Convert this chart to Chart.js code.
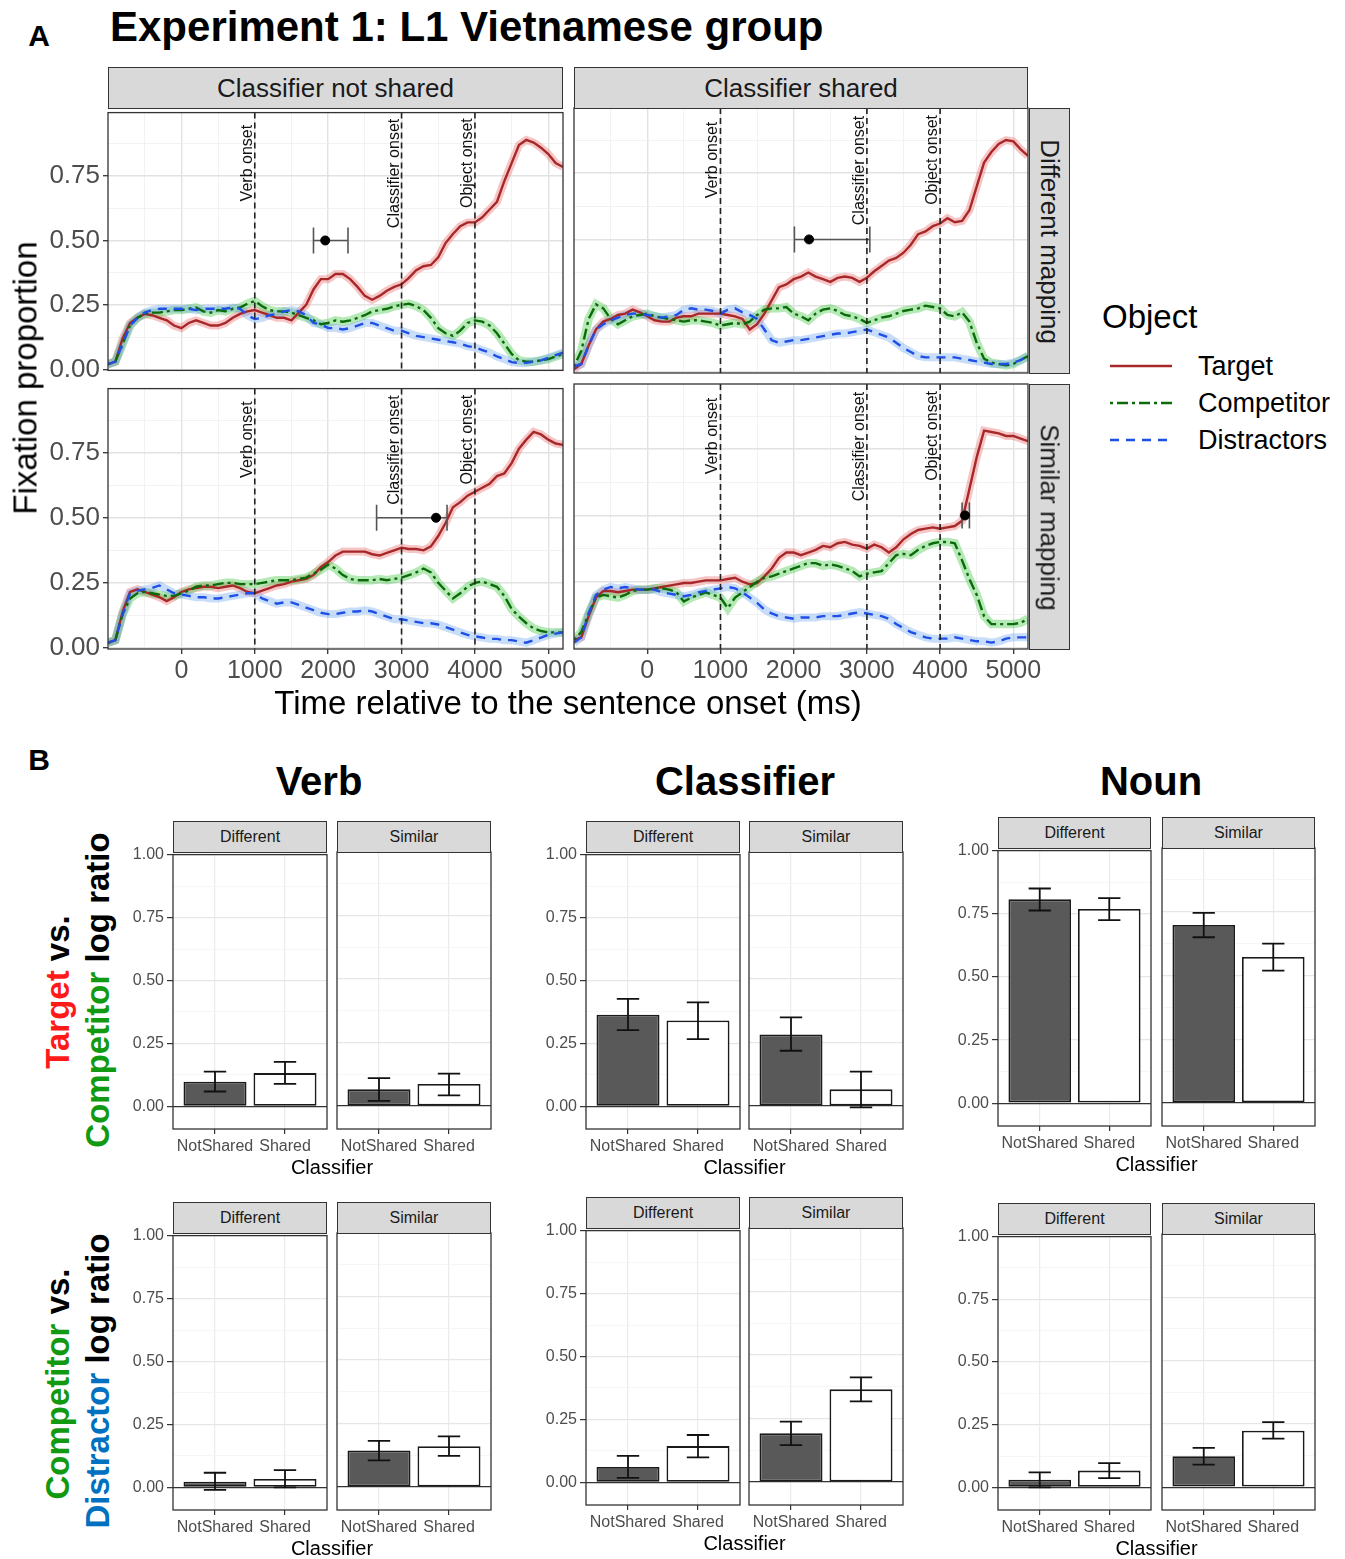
<!DOCTYPE html>
<html>
<head>
<meta charset="utf-8">
<script src="https://cdn.jsdelivr.net/npm/chart.js@4.4.0/dist/chart.umd.min.js"></script>
<style>
body { margin:0; background:#fff; font-family:"Liberation Sans", Arial, sans-serif; }
#page { position:relative; width:1345px; height:1559px; overflow:hidden; background:#fff; }
canvas { position:absolute; }
.lbl { position:absolute; white-space:nowrap; line-height:1; }
.strip { position:absolute; background:#d9d9d9; border:1.3px solid #333; box-sizing:border-box;
         display:flex; align-items:center; justify-content:center; color:#1a1a1a; white-space:nowrap; }
</style>
</head>
<body>
<div id="page"></div>
<script>
//////////////////// A: fixation proportions (100 ms steps) ////////////////////
var timesMs = [-1000,-900,-800,-700,-600,-500,-400,-300,-200,-100,
  0,100,200,300,400,500,600,700,800,900,
  1000,1100,1200,1300,1400,1500,1600,1700,1800,1900,
  2000,2100,2200,2300,2400,2500,2600,2700,2800,2900,
  3000,3100,3200,3300,3400,3500,3600,3700,3800,3900,
  4000,4100,4200,4300,4400,4500,4600,4700,4800,4900,
  5000,5100,5200];

// Classifier not shared / Different mapping
var nsDiffTarget = [0.02,0.03,0.12,0.18,0.20,0.215,0.21,0.20,0.19,0.17,
  0.16,0.18,0.19,0.18,0.17,0.17,0.18,0.20,0.215,0.225,
  0.23,0.22,0.21,0.20,0.20,0.19,0.22,0.25,0.31,0.35,
  0.35,0.37,0.37,0.35,0.32,0.285,0.27,0.285,0.305,0.32,
  0.33,0.355,0.385,0.40,0.405,0.435,0.49,0.525,0.555,0.57,
  0.57,0.59,0.62,0.65,0.73,0.80,0.87,0.89,0.88,0.86,
  0.835,0.80,0.785];
var nsDiffCompetitor = [0.02,0.03,0.10,0.17,0.20,0.215,0.22,0.22,0.225,0.23,
  0.23,0.235,0.24,0.225,0.22,0.23,0.225,0.235,0.24,0.255,
  0.265,0.245,0.23,0.225,0.225,0.22,0.21,0.20,0.19,0.175,
  0.18,0.19,0.185,0.19,0.20,0.21,0.225,0.23,0.235,0.245,
  0.25,0.255,0.245,0.23,0.20,0.16,0.14,0.13,0.15,0.18,
  0.19,0.185,0.17,0.14,0.10,0.06,0.035,0.03,0.03,0.035,
  0.04,0.05,0.06];
var nsDiffDistractors = [0.02,0.03,0.10,0.17,0.20,0.22,0.23,0.235,0.235,0.235,
  0.235,0.235,0.23,0.235,0.235,0.235,0.235,0.24,0.235,0.21,
  0.195,0.20,0.21,0.215,0.225,0.23,0.225,0.21,0.18,0.175,
  0.16,0.16,0.155,0.16,0.17,0.18,0.18,0.17,0.16,0.15,
  0.15,0.14,0.13,0.125,0.12,0.115,0.11,0.105,0.10,0.09,
  0.085,0.075,0.065,0.05,0.04,0.028,0.025,0.025,0.03,0.035,
  0.045,0.055,0.065];

// Classifier shared / Different mapping
var shDiffTarget = [0.01,0.03,0.10,0.16,0.19,0.20,0.215,0.22,0.235,0.225,
  0.21,0.195,0.19,0.19,0.205,0.21,0.21,0.22,0.22,0.22,
  0.22,0.215,0.21,0.20,0.16,0.18,0.22,0.27,0.32,0.33,
  0.35,0.36,0.375,0.36,0.35,0.34,0.355,0.36,0.355,0.34,
  0.355,0.38,0.40,0.42,0.43,0.45,0.48,0.52,0.53,0.55,
  0.56,0.58,0.565,0.57,0.61,0.70,0.79,0.83,0.86,0.875,
  0.87,0.84,0.815];
var shDiffCompetitor = [0.02,0.08,0.20,0.255,0.24,0.20,0.18,0.195,0.21,0.215,
  0.22,0.21,0.205,0.20,0.195,0.19,0.195,0.195,0.19,0.185,
  0.175,0.18,0.185,0.18,0.19,0.215,0.235,0.24,0.24,0.245,
  0.22,0.21,0.195,0.22,0.235,0.24,0.23,0.215,0.21,0.20,
  0.185,0.195,0.205,0.21,0.22,0.23,0.235,0.24,0.25,0.245,
  0.24,0.215,0.21,0.225,0.19,0.11,0.05,0.035,0.03,0.025,
  0.03,0.045,0.06];
var shDiffDistractors = [0.02,0.03,0.10,0.16,0.18,0.195,0.205,0.215,0.22,0.22,
  0.215,0.21,0.205,0.21,0.215,0.235,0.24,0.235,0.235,0.23,
  0.22,0.235,0.24,0.225,0.215,0.20,0.16,0.12,0.11,0.115,
  0.12,0.12,0.125,0.13,0.135,0.14,0.145,0.145,0.15,0.155,
  0.16,0.15,0.14,0.13,0.11,0.09,0.075,0.06,0.055,0.055,
  0.055,0.055,0.055,0.05,0.045,0.04,0.035,0.03,0.03,0.03,
  0.035,0.045,0.06];

// Classifier not shared / Similar mapping
var nsSimTarget = [0.02,0.03,0.14,0.215,0.225,0.215,0.205,0.195,0.18,0.195,
  0.215,0.225,0.23,0.235,0.235,0.23,0.235,0.24,0.23,0.215,
  0.21,0.22,0.23,0.24,0.245,0.255,0.26,0.265,0.28,0.31,
  0.33,0.355,0.37,0.37,0.37,0.37,0.36,0.355,0.365,0.375,
  0.385,0.38,0.38,0.375,0.39,0.43,0.48,0.54,0.56,0.585,
  0.60,0.615,0.63,0.66,0.67,0.71,0.765,0.80,0.83,0.82,
  0.80,0.785,0.78];
var nsSimCompetitor = [0.02,0.03,0.13,0.19,0.21,0.215,0.21,0.205,0.20,0.20,
  0.21,0.22,0.235,0.24,0.24,0.245,0.25,0.25,0.245,0.245,
  0.245,0.25,0.255,0.26,0.26,0.26,0.265,0.27,0.285,0.30,
  0.32,0.305,0.28,0.265,0.26,0.26,0.26,0.265,0.26,0.265,
  0.27,0.28,0.29,0.305,0.29,0.25,0.22,0.19,0.21,0.235,
  0.25,0.255,0.245,0.235,0.20,0.15,0.12,0.095,0.075,0.065,
  0.06,0.06,0.06];
var nsSimDistractors = [0.02,0.03,0.13,0.21,0.22,0.225,0.23,0.24,0.225,0.21,
  0.205,0.20,0.195,0.195,0.19,0.19,0.195,0.20,0.205,0.21,
  0.21,0.19,0.18,0.17,0.175,0.175,0.165,0.155,0.145,0.135,
  0.13,0.13,0.135,0.14,0.14,0.145,0.14,0.13,0.12,0.11,
  0.11,0.105,0.10,0.095,0.095,0.09,0.08,0.07,0.06,0.05,
  0.045,0.04,0.035,0.035,0.03,0.03,0.025,0.02,0.03,0.04,
  0.05,0.055,0.06];

// Classifier shared / Similar mapping
var shSimTarget = [0.03,0.04,0.12,0.19,0.215,0.215,0.21,0.215,0.22,0.22,
  0.22,0.225,0.23,0.235,0.24,0.245,0.245,0.25,0.255,0.255,
  0.255,0.26,0.265,0.25,0.24,0.245,0.27,0.30,0.34,0.36,
  0.36,0.35,0.36,0.37,0.385,0.38,0.395,0.40,0.39,0.385,
  0.375,0.39,0.38,0.36,0.38,0.41,0.43,0.445,0.45,0.455,
  0.45,0.455,0.46,0.48,0.60,0.72,0.82,0.815,0.81,0.80,
  0.80,0.79,0.78];
var shSimCompetitor = [0.03,0.06,0.13,0.19,0.20,0.195,0.19,0.20,0.215,0.22,
  0.22,0.225,0.225,0.22,0.21,0.175,0.19,0.20,0.21,0.20,
  0.19,0.15,0.19,0.21,0.23,0.25,0.265,0.27,0.28,0.29,
  0.30,0.31,0.32,0.32,0.31,0.315,0.31,0.30,0.29,0.27,
  0.28,0.285,0.29,0.32,0.35,0.355,0.35,0.37,0.385,0.395,
  0.40,0.40,0.395,0.33,0.26,0.20,0.12,0.09,0.09,0.09,
  0.09,0.095,0.11];
var shSimDistractors = [0.02,0.04,0.13,0.20,0.22,0.23,0.225,0.23,0.225,0.22,
  0.22,0.22,0.21,0.205,0.20,0.195,0.20,0.21,0.215,0.22,
  0.225,0.23,0.225,0.21,0.19,0.17,0.145,0.13,0.12,0.115,
  0.11,0.115,0.115,0.115,0.12,0.12,0.12,0.125,0.13,0.135,
  0.13,0.125,0.12,0.11,0.09,0.075,0.06,0.05,0.04,0.035,
  0.035,0.035,0.04,0.035,0.03,0.025,0.025,0.02,0.025,0.035,
  0.04,0.04,0.04];

// divergence point estimates (mean and interval, ms) at y = 0.5: NS-Diff, S-Diff, NS-Sim, S-Sim
var peakMean = [1960, 2210, 3470, 4340];
var peakLow  = [1800, 2010, 2660, 4300];
var peakHigh = [2270, 3040, 3620, 4400];
var peakLevel = 0.5;

var onsetTimes  = [1000, 3000, 4000];
var onsetLabels = ["Verb onset", "Classifier onset", "Object onset"];
var onsetLabelY = [0.80, 0.76, 0.80];

var xTicksA = [0, 1000, 2000, 3000, 4000, 5000];
var xMinorA = [-500, 500, 1500, 2500, 3500, 4500];
var yTicksA = [0, 0.25, 0.5, 0.75];
var yMinorA = [0.125, 0.375, 0.625, 0.875];

//////////////////// B: log ratios, order = Different-NotShared, Different-Shared, Similar-NotShared, Similar-Shared ////////////////////
var classifierLevels = ["NotShared", "Shared"];
var mappingLevels = ["Different", "Similar"];

var tcVerb   = [0.098, 0.132, 0.066, 0.087];
var tcVerbLo = [0.059, 0.089, 0.021, 0.042];
var tcVerbHi = [0.138, 0.177, 0.110, 0.128];
var tcClf    = [0.364, 0.341, 0.282, 0.066];
var tcClfLo  = [0.303, 0.267, 0.218, -0.005];
var tcClfHi  = [0.427, 0.413, 0.349, 0.136];
var tcNoun   = [0.807, 0.769, 0.698, 0.573];
var tcNounLo = [0.763, 0.725, 0.650, 0.519];
var tcNounHi = [0.850, 0.812, 0.746, 0.625];

var cdVerb   = [0.022, 0.033, 0.144, 0.161];
var cdVerbLo = [-0.010, 0.000, 0.105, 0.123];
var cdVerbHi = [0.058, 0.068, 0.182, 0.200];
var cdClf    = [0.061, 0.144, 0.192, 0.365];
var cdClfLo  = [0.018, 0.099, 0.146, 0.318];
var cdClfHi  = [0.105, 0.188, 0.238, 0.412];
var cdNoun   = [0.031, 0.067, 0.122, 0.223];
var cdNounLo = [0.000, 0.037, 0.089, 0.192];
var cdNounHi = [0.060, 0.097, 0.155, 0.257];

var yTicksB = [0, 0.25, 0.5, 0.75, 1];
var yMinorB = [0.125, 0.375, 0.625, 0.875];

//////////////////////////////////////////////////////////////////
Chart.defaults.font.family = "'Liberation Sans', Arial, sans-serif";
Chart.defaults.animation = false;
Chart.defaults.events = [];
Chart.defaults.plugins.legend.display = false;
Chart.defaults.plugins.tooltip.enabled = false;

var page = document.getElementById("page");

function txt(html, cx, cy, size, css) {
  var d = document.createElement("div");
  d.className = "lbl";
  d.innerHTML = html;
  d.style.left = cx + "px";
  d.style.top = cy + "px";
  d.style.fontSize = size + "px";
  css = css || {};
  var tr = css.left ? "translate(0,-50%)" : "translate(-50%,-50%)";
  if (css.rot) tr += " rotate(" + css.rot + "deg)";
  d.style.transform = tr;
  if (css.bold) d.style.fontWeight = "bold";
  d.style.color = css.color || "#000";
  page.appendChild(d);
  return d;
}

function strip(html, x, y, w, h, size, rot) {
  var d = document.createElement("div");
  d.className = "strip";
  d.style.left = x + "px"; d.style.top = y + "px";
  d.style.width = w + "px"; d.style.height = h + "px";
  d.style.fontSize = size + "px";
  var s = document.createElement("span");
  s.innerHTML = html;
  if (rot) { s.style.transform = "rotate(" + rot + "deg)"; s.style.display = "inline-block"; }
  d.appendChild(s);
  page.appendChild(d);
}

// canvas placed so that the chart area lands exactly on rect
function placeChart(rect, m, cfg) {
  var c = document.createElement("canvas");
  var w = rect.w + m.l + m.r, h = rect.h + m.t + m.b;
  c.width = w; c.height = h;
  c.style.left = (rect.x - m.l) + "px";
  c.style.top = (rect.y - m.t) + "px";
  c.style.width = w + "px";
  c.style.height = h + "px";
  page.appendChild(c);
  cfg.options.responsive = false;
  cfg.options.devicePixelRatio = 1;
  cfg.options.layout = { autoPadding: false,
    padding: { left: m.yAxis ? 0 : m.l, right: m.r, top: m.t, bottom: m.xAxis ? 0 : m.b } };
  return new Chart(c, cfg);
}

var framePlugin = {
  id: "frame",
  afterDraw: function(chart) {
    var a = chart.chartArea, ctx = chart.ctx;
    ctx.save();
    ctx.strokeStyle = "#333";
    ctx.lineWidth = 1.3;
    ctx.strokeRect(a.left, a.top, a.right - a.left, a.bottom - a.top);
    ctx.restore();
  }
};

var onsetPlugin = {
  id: "onsets",
  afterDatasetsDraw: function(chart) {
    var xs = chart.scales.x, ys = chart.scales.y, ctx = chart.ctx, a = chart.chartArea;
    ctx.save();
    for (var i = 0; i < onsetTimes.length; i++) {
      var px = xs.getPixelForValue(onsetTimes[i]);
      ctx.strokeStyle = "#222";
      ctx.lineWidth = 1.6;
      ctx.setLineDash([6, 4]);
      ctx.beginPath(); ctx.moveTo(px, a.top); ctx.lineTo(px, a.bottom); ctx.stroke();
      ctx.setLineDash([]);
      ctx.save();
      ctx.translate(px - 3, ys.getPixelForValue(onsetLabelY[i]));
      ctx.rotate(-Math.PI / 2);
      ctx.fillStyle = "#111";
      ctx.font = "16px 'Liberation Sans', Arial, sans-serif";
      ctx.textAlign = "center";
      ctx.textBaseline = "alphabetic";
      ctx.fillText(onsetLabels[i], 0, 0);
      ctx.restore();
    }
    ctx.restore();
  }
};

function pts(vals) {
  return timesMs.map(function(t, i) { return { x: t, y: vals[i] }; });
}

function isIn(arr, v) { return arr.indexOf(v) >= 0; }

function linePanel(rect, k, tv, cv, dv, showX, showY) {
  var m = { l: showY ? 75 : 6, r: 24, t: 14, b: showX ? 40 : 16, xAxis: showX, yAxis: showY };
  placeChart(rect, m, {
    type: "line",
    data: { datasets: [
      { data: pts(tv), borderColor: "rgba(232,105,105,0.38)", borderWidth: 8, order: 22 },
      { data: pts(cv), borderColor: "rgba(70,200,70,0.40)", borderWidth: 8.5, order: 21 },
      { data: pts(dv), borderColor: "rgba(110,165,240,0.38)", borderWidth: 8, order: 20 },
      { data: pts(tv), borderColor: "#a8282a", borderWidth: 2.4, order: 7 },
      { data: pts(cv), borderColor: "#0b6b0b", borderWidth: 2.4, borderDash: [3, 4, 11, 4], order: 6 },
      { data: pts(dv), borderColor: "#1f4fe6", borderWidth: 2.4, borderDash: [9, 7], order: 5 },
      { data: [{ x: peakLow[k], y: peakLevel }, { x: peakHigh[k], y: peakLevel }],
        borderColor: "#555", borderWidth: 1.6, pointStyle: "line", pointRadius: 13, pointRotation: 90,
        pointBorderColor: "#555", pointBorderWidth: 1.6, order: 2 },
      { data: [{ x: peakMean[k], y: peakLevel }], showLine: false, pointRadius: 4.5,
        pointBackgroundColor: "#000", pointBorderColor: "#000", order: 1 }
    ] },
    options: {
      elements: { point: { radius: 0 }, line: { tension: 0 } },
      scales: {
        x: { type: "linear", min: -1000, max: 5200, offset: false,
          afterBuildTicks: function(s) { s.ticks = xTicksA.concat(xMinorA).map(function(v) { return { value: v }; }); },
          afterFit: function(s) { s.height = showX ? 40 : 0; },
          ticks: { display: showX, autoSkip: false, maxRotation: 0, minRotation: 0, padding: 2,
            font: { size: 25 }, color: "#4d4d4d",
            callback: function(v) { return isIn(xTicksA, v) ? String(v) : ""; } },
          grid: { drawTicks: showX, tickLength: 5, tickWidth: 1.3,
            color: function(c) { return isIn(xTicksA, c.tick.value) ? "#e2e2e2" : "#efefef"; },
            lineWidth: function(c) { return isIn(xTicksA, c.tick.value) ? 1.4 : 0.8; },
            tickColor: function(c) { return isIn(xTicksA, c.tick.value) ? "#333" : "rgba(0,0,0,0)"; } },
          border: { display: false } },
        y: { type: "linear", min: -0.004, max: 0.996,
          afterBuildTicks: function(s) { s.ticks = yTicksA.concat(yMinorA).map(function(v) { return { value: v }; }); },
          afterFit: function(s) { s.width = showY ? 75 : 0; },
          ticks: { display: showY, autoSkip: false, padding: 3, font: { size: 26 }, color: "#4d4d4d",
            callback: function(v) { return isIn(yTicksA, v) ? v.toFixed(2) : ""; } },
          grid: { drawTicks: showY, tickLength: 5, tickWidth: 1.3,
            color: function(c) { return isIn(yTicksA, c.tick.value) ? "#e2e2e2" : "#efefef"; },
            lineWidth: function(c) { return isIn(yTicksA, c.tick.value) ? 1.4 : 0.8; },
            tickColor: function(c) { return isIn(yTicksA, c.tick.value) ? "#333" : "rgba(0,0,0,0)"; } },
          border: { display: false } }
      }
    },
    plugins: [onsetPlugin, framePlugin]
  });
}

var barErrPlugin = {
  id: "barErr",
  afterDatasetsDraw: function(chart) {
    var ds = chart.data.datasets[0], meta = chart.getDatasetMeta(0);
    var xs = chart.scales.x, ys = chart.scales.y, ctx = chart.ctx;
    var hw = xs.getPixelForValue(1.16) - xs.getPixelForValue(1);
    ctx.save();
    ctx.strokeStyle = "#111";
    ctx.lineWidth = 1.8;
    meta.data.forEach(function(bar, i) {
      var y1 = ys.getPixelForValue(ds.errLo[i]), y2 = ys.getPixelForValue(ds.errHi[i]);
      ctx.beginPath();
      ctx.moveTo(bar.x, y1); ctx.lineTo(bar.x, y2);
      ctx.moveTo(bar.x - hw, y1); ctx.lineTo(bar.x + hw, y1);
      ctx.moveTo(bar.x - hw, y2); ctx.lineTo(bar.x + hw, y2);
      ctx.stroke();
    });
    ctx.restore();
  }
};

function barPanel(rect, vals, lo, hi, showY) {
  var m = { l: showY ? 50 : 4, r: 14, t: 10, b: 30, xAxis: true, yAxis: showY };
  placeChart(rect, m, {
    type: "bar",
    data: { datasets: [{
      data: [{ x: 1, y: vals[0] }, { x: 2, y: vals[1] }],
      errLo: lo, errHi: hi,
      backgroundColor: ["#595959", "#ffffff"], borderColor: "#1a1a1a", borderWidth: 1.8,
      borderSkipped: false, barPercentage: 0.9, categoryPercentage: 1
    }] },
    options: {
      scales: {
        x: { type: "linear", min: 0.4, max: 2.6, offset: false,
          afterBuildTicks: function(s) { s.ticks = [{ value: 1 }, { value: 2 }]; },
          afterFit: function(s) { s.height = 30; },
          ticks: { autoSkip: false, maxRotation: 0, minRotation: 0, padding: 3,
            font: { size: 16 }, color: "#4d4d4d",
            callback: function(v) { return classifierLevels[v - 1]; } },
          grid: { offset: false, color: "#ebebeb", lineWidth: 1.2, drawTicks: true, tickLength: 5, tickColor: "#333", tickWidth: 1.2 },
          border: { display: false } },
        y: { type: "linear", min: -0.09, max: 1,
          afterBuildTicks: function(s) { s.ticks = yTicksB.concat(yMinorB).map(function(v) { return { value: v }; }); },
          afterFit: function(s) { s.width = showY ? 50 : 0; },
          ticks: { display: showY, autoSkip: false, padding: 3, font: { size: 16 }, color: "#4d4d4d",
            callback: function(v) { return isIn(yTicksB, v) ? v.toFixed(2) : ""; } },
          grid: { drawTicks: showY, tickLength: 6, tickWidth: 1.2,
            color: function(c) { return c.tick.value === 0 ? "#333" : (isIn(yTicksB, c.tick.value) ? "#e6e6e6" : "#f2f2f2"); },
            lineWidth: function(c) { return c.tick.value === 0 ? 1.3 : (isIn(yTicksB, c.tick.value) ? 1.2 : 0.7); },
            tickColor: function(c) { return isIn(yTicksB, c.tick.value) ? "#333" : "rgba(0,0,0,0)"; } },
          border: { display: false } }
      }
    },
    plugins: [barErrPlugin, framePlugin]
  });
}

//////////////////// Part A ////////////////////
txt("A", 39, 36, 30, { bold: true });
txt("Experiment 1: L1 Vietnamese group", 110, 27, 42, { bold: true, left: true });

var rTL = { x: 108, y: 108, w: 455, h: 265 };
var rTR = { x: 574, y: 108, w: 454, h: 265 };
var rBL = { x: 108, y: 384, w: 455, h: 265 };
var rBR = { x: 574, y: 384, w: 454, h: 265 };

linePanel(rTL, 0, nsDiffTarget, nsDiffCompetitor, nsDiffDistractors, false, true);
linePanel(rTR, 1, shDiffTarget, shDiffCompetitor, shDiffDistractors, false, false);
linePanel(rBL, 2, nsSimTarget, nsSimCompetitor, nsSimDistractors, true, true);
linePanel(rBR, 3, shSimTarget, shSimCompetitor, shSimDistractors, true, false);

strip("Classifier not shared", 108, 67, 455, 42, 26);
strip("Classifier shared", 574, 67, 454, 42, 26);
strip("Different mapping", 1029, 108, 41, 266, 26, 90);
strip("Similar mapping", 1029, 384, 41, 266, 26, 90);

txt("Fixation proportion", 25, 378, 33, { rot: -90 });
txt("Time relative to the sentence onset (ms)", 568, 702, 33);

// legend
txt("Object", 1102, 316, 33, { left: true });
txt("Target", 1198, 366, 27, { left: true });
txt("Competitor", 1198, 403, 27, { left: true });
txt("Distractors", 1198, 440, 27, { left: true });
(function() {
  var c = document.createElement("canvas");
  c.width = 80; c.height = 110;
  c.style.left = "1102px"; c.style.top = "345px";
  page.appendChild(c);
  var ctx = c.getContext("2d");
  var keys = [["#a8282a", []], ["#0b6b0b", [3, 4, 11, 4]], ["#1f4fe6", [9, 7]]];
  keys.forEach(function(k, i) {
    var y = 21 + i * 37;
    ctx.strokeStyle = k[0]; ctx.lineWidth = 2.6; ctx.setLineDash(k[1]);
    ctx.beginPath(); ctx.moveTo(8, y); ctx.lineTo(70, y); ctx.stroke();
  });
})();

//////////////////// Part B ////////////////////
txt("B", 39, 760, 30, { bold: true });
txt("Verb", 319, 781, 40, { bold: true });
txt("Classifier", 745, 781, 40, { bold: true });
txt("Noun", 1151, 781, 40, { bold: true });

txt('<span style="color:#ff1a1a">Target</span> vs.', 57, 992, 33, { bold: true, rot: -90 });
txt('<span style="color:#119911">Competitor</span> log ratio', 97, 990, 33, { bold: true, rot: -90 });
txt('<span style="color:#119911">Competitor</span> vs.', 57, 1384, 33, { bold: true, rot: -90 });
txt('<span style="color:#0070c0">Distractor</span> log ratio', 97, 1381, 33, { bold: true, rot: -90 });

var groupsB = [
  { v: tcVerb, lo: tcVerbLo, hi: tcVerbHi, x1: 173, x2: 337, w: 154, y: 852, h: 277 },
  { v: tcClf,  lo: tcClfLo,  hi: tcClfHi,  x1: 586, x2: 749, w: 154, y: 852, h: 277 },
  { v: tcNoun, lo: tcNounLo, hi: tcNounHi, x1: 998, x2: 1162, w: 153, y: 848, h: 278 },
  { v: cdVerb, lo: cdVerbLo, hi: cdVerbHi, x1: 173, x2: 337, w: 154, y: 1233, h: 277 },
  { v: cdClf,  lo: cdClfLo,  hi: cdClfHi,  x1: 586, x2: 749, w: 154, y: 1228, h: 277 },
  { v: cdNoun, lo: cdNounLo, hi: cdNounHi, x1: 998, x2: 1162, w: 153, y: 1234, h: 276 }
];

groupsB.forEach(function(g) {
  barPanel({ x: g.x1, y: g.y, w: g.w, h: g.h }, g.v.slice(0, 2), g.lo.slice(0, 2), g.hi.slice(0, 2), true);
  barPanel({ x: g.x2, y: g.y, w: g.w, h: g.h }, g.v.slice(2, 4), g.lo.slice(2, 4), g.hi.slice(2, 4), false);
  strip(mappingLevels[0], g.x1, g.y - 31, g.w, 32, 16);
  strip(mappingLevels[1], g.x2, g.y - 31, g.w, 32, 16);
  txt("Classifier", (g.x1 + g.x2 + g.w) / 2, g.y + g.h + 38, 20);
});
</script>
</body>
</html>
